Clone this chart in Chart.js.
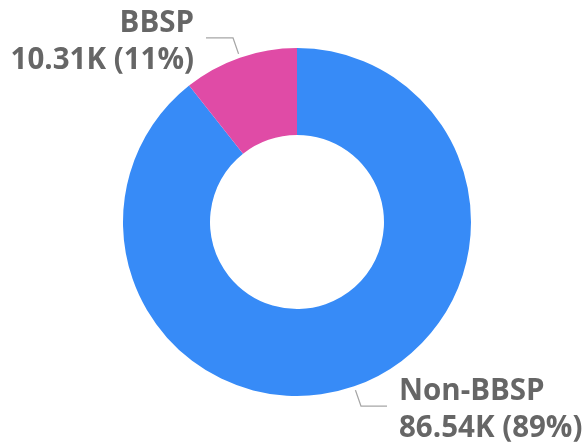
<!DOCTYPE html>
<html>
<head>
<meta charset="utf-8">
<script src="https://cdn.jsdelivr.net/npm/chart.js@4"></script>
<style>
  body { margin: 0; background: #fff; }
  #wrap { width: 584px; height: 443px; position: relative; }
</style>
</head>
<body>
<div id="wrap"><canvas id="donut" width="584" height="443"></canvas></div>
<script>
var categories = ['Non-BBSP', 'BBSP'];
var values = [86540, 10310];
var colors = ['#378bf7', '#e04ba6'];

var total = values.reduce(function(a, b) { return a + b; }, 0);

// labels with leader lines, placed from each arc's mid angle
var outsideLabels = {
  id: 'outsideLabels',
  afterDraw: function(chart) {
    var ctx = chart.ctx;
    var meta = chart.getDatasetMeta(0);
    ctx.save();
    meta.data.forEach(function(arc, i) {
      var mid = (arc.startAngle + arc.endAngle) / 2;
      var cos = Math.cos(mid), sin = Math.sin(mid);
      var r0 = arc.outerRadius + 4, r1 = arc.outerRadius + 21;
      var x0 = arc.x + cos * r0, y0 = arc.y + sin * r0;
      var x1 = arc.x + cos * r1, y1 = arc.y + sin * r1;
      var right = cos >= 0;
      var x2 = x1 + (right ? 26 : -27);
      ctx.strokeStyle = '#a6a6a6';
      ctx.lineWidth = 1.3;
      ctx.beginPath();
      ctx.moveTo(x0, y0);
      ctx.lineTo(x1, y1);
      ctx.lineTo(x2, y1);
      ctx.stroke();

      var v = values[i];
      var line2 = (v / 1000).toFixed(2) + 'K (' + Math.round(v / total * 100) + '%)';
      ctx.fillStyle = '#666666';
      ctx.font = 'bold 29.5px "Open Sans"';
      ctx.textAlign = right ? 'left' : 'right';
      ctx.textBaseline = 'alphabetic';
      var tx = x2 + (right ? 12 : -12);
      ctx.fillText(categories[i], tx, y1 - 6);
      ctx.fillText(line2, tx, y1 + 31);
    });
    ctx.restore();
  }
};

new Chart(document.getElementById('donut'), {
  type: 'doughnut',
  data: {
    labels: categories,
    datasets: [{
      data: values,
      backgroundColor: colors,
      borderWidth: 0
    }]
  },
  options: {
    responsive: false,
    animation: false,
    cutout: '50%',
    layout: { padding: { left: 123, right: 113, top: 48, bottom: 47 } },
    plugins: {
      legend: { display: false },
      tooltip: { enabled: false }
    }
  },
  plugins: [outsideLabels]
});
</script>
</body>
</html>
